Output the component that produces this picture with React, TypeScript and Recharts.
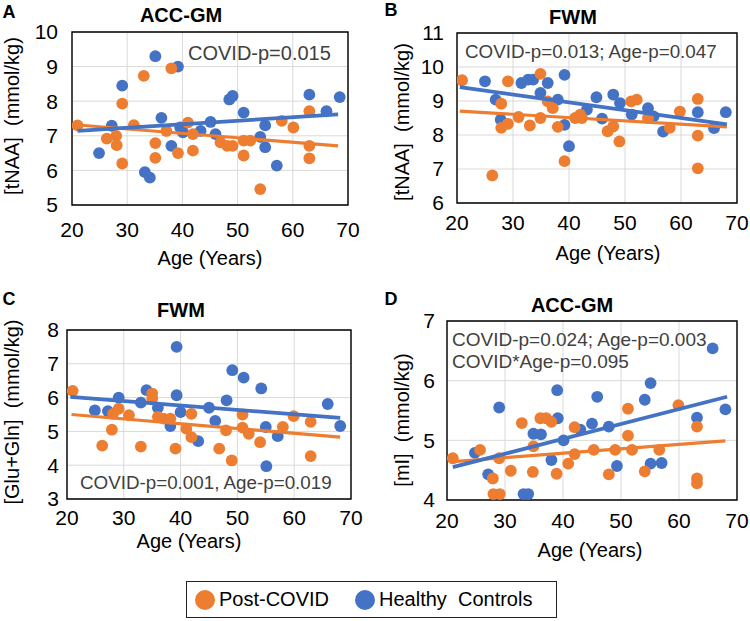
import React from "react";
import {
  ScatterChart,
  Scatter,
  XAxis,
  YAxis,
  CartesianGrid,
  ReferenceArea,
} from "recharts";

const POST = "#ED7D31";
const HEALTHY = "#4472C4";
const FONT = '"Liberation Sans", Arial, sans-serif';

const ageTicks = [20, 30, 40, 50, 60, 70];

// A - ACC-GM [tNAA]
const accNaaPost = [
  [21, 7.3], [26.3, 6.92], [28, 7.0], [28.1, 6.73], [29.1, 7.93], [29.1, 6.2], [31.2, 7.31],
  [33, 8.73], [35.1, 6.79], [35.1, 6.36], [37.1, 7.14], [38, 8.95], [39.2, 6.5], [41, 7.38],
  [41.9, 7.05], [41.9, 6.57], [46.9, 6.81], [48.1, 6.71], [49.1, 6.71], [51.1, 6.43],
  [51.1, 6.86], [52.3, 6.86], [54.1, 5.46], [58, 7.43], [60.1, 7.24], [63, 7.71], [63, 6.71],
  [63, 6.35],
];
const accNaaHealthy = [
  [24.9, 6.5], [27.2, 7.29], [29.1, 8.45], [33.2, 5.95], [34.1, 5.79], [35.1, 9.3],
  [36.2, 7.52], [38, 6.71], [39.2, 9.0], [39.6, 7.24], [40.1, 7.1], [43.3, 7.14], [45.1, 7.4],
  [46, 7.05], [48.5, 8.05], [49.1, 8.15], [51.1, 7.67], [54.1, 6.97], [55, 7.3], [55, 6.67],
  [57.1, 6.14], [63, 8.19], [66.1, 7.71], [68.5, 8.12],
];
const accNaaPostTrend = [[20.5, 7.32], [68.2, 6.71]];
const accNaaHealthyTrend = [[21, 7.14], [68.2, 7.62]];

// B - FWM [tNAA]
const fwmNaaPost = [
  [20.9, 9.61], [26.3, 6.81], [27.9, 8.92], [27.9, 8.21], [29.1, 9.58], [29.1, 8.33], [31, 8.53],
  [33, 8.28], [34.9, 9.8], [34.9, 8.5], [36.2, 8.99], [37.1, 8.79], [38, 8.24], [39.2, 7.23],
  [41.1, 8.5], [42, 8.6], [42.3, 8.5], [46.9, 8.11], [47.9, 8.25], [49, 7.81], [51.1, 8.99],
  [52.1, 9.04], [54.1, 8.5], [58, 8.21], [59.8, 8.69], [63, 9.06], [63, 7.98], [63, 7.02],
];
const fwmNaaHealthy = [
  [25, 9.58], [26.9, 9.04], [27.8, 8.45], [31.5, 9.53], [32.7, 9.63], [33.6, 9.63], [34.9, 9.24],
  [36.2, 9.53], [38, 9.04], [39.2, 9.77], [39.2, 8.3], [40, 7.67], [43.2, 8.75], [44.9, 9.11],
  [45.9, 8.48], [47.9, 9.19], [49.1, 8.94], [51.2, 8.6], [54.1, 8.79], [55.1, 8.55],
  [56.8, 8.1], [63, 8.67], [65.9, 8.2], [68, 8.67],
];
const fwmNaaPostTrend = [[20.5, 8.7], [68.2, 8.24]];
const fwmNaaHealthyTrend = [[20.5, 9.41], [68.2, 8.31]];

// C - FWM [Glu+Gln]
const fwmGlxPost = [
  [21, 6.2], [26.2, 4.58], [27.9, 5.05], [28.1, 5.52], [29.1, 5.67], [30.9, 5.48], [33, 4.55],
  [35, 6.12], [35, 5.97], [36, 5.43], [37, 5.38], [38.2, 5.38], [39.1, 4.49], [41, 5.08],
  [41.9, 5.52], [41.9, 4.83], [46.8, 4.49], [48, 5.03], [49, 4.14], [50.9, 5.5], [50.9, 5.11],
  [52, 4.93], [54, 4.68], [58, 5.13], [59.9, 5.45], [62.9, 5.28], [62.9, 4.27],
];
const fwmGlxHealthy = [
  [24.9, 5.62], [27.2, 5.6], [29.1, 6.0], [33, 5.85], [34, 6.22], [36, 5.7], [38.2, 5.16],
  [39.3, 7.5], [39.3, 6.07], [40, 5.57], [43.1, 4.71], [45, 5.7], [46.1, 5.31], [48.1, 5.92],
  [49.1, 6.81], [51.1, 6.59], [54.2, 6.27], [55, 5.13], [55.1, 3.97], [57.1, 4.86],
  [65.9, 5.81], [68.1, 5.16],
];
const fwmGlxPostTrend = [[20.8, 5.5], [68.1, 4.83]];
const fwmGlxHealthyTrend = [[20.6, 6.02], [68.1, 5.4]];

// D - ACC-GM [mI]
const accMiPost = [
  [21, 4.7], [25.7, 4.84], [27.9, 4.36], [28, 4.1], [29.1, 4.1], [29, 4.7], [31, 4.49],
  [32.9, 5.29], [34.9, 4.9], [34.8, 4.47], [36.1, 5.37], [37.1, 5.37], [38, 5.31], [38.9, 4.44],
  [40.9, 4.61], [42, 5.22], [42, 4.77], [45.3, 4.84], [47.9, 4.43], [49, 4.84], [51.2, 5.53],
  [51.2, 5.08], [51.9, 4.84], [54.1, 4.48], [56.6, 4.84], [59.9, 5.59], [63.1, 5.23],
  [63.1, 4.36], [63.1, 4.28],
];
const accMiHealthy = [
  [24.8, 4.79], [27.1, 4.43], [29, 5.55], [33.2, 4.1], [34, 4.1], [34.9, 5.11], [36.2, 5.1],
  [38, 4.67], [39, 5.84], [39.1, 5.37], [40.1, 5.0], [43, 5.18], [45, 5.28], [45.9, 5.73],
  [47.9, 5.23], [49.3, 4.57], [54.1, 5.68], [55.1, 5.96], [55.1, 4.61], [57, 4.62],
  [63.1, 5.38], [65.8, 6.54], [68, 5.52],
];
const accMiPostTrend = [[20.5, 4.64], [68, 4.99]];
const accMiHealthyTrend = [[21, 4.55], [68.3, 5.73]];

const toPts = (arr: number[][]) => arr.map(([age, val]) => ({ age, val }));

const dot = (color: string) => (props: any) =>
  <circle cx={props.cx} cy={props.cy} r={5.9} fill={color} />;

const noDot = () => <g />;

function Txt({ x, y, size, children, bold, color, rotate, align }: any) {
  const tx = align === "left" ? "0" : "-50%";
  return (
    <div
      style={{
        position: "absolute",
        left: x,
        top: y,
        transform: `translate(${tx}, -50%)${rotate ? " rotate(-90deg)" : ""}`,
        fontSize: size,
        fontWeight: bold ? 700 : 400,
        color: color || "#000",
        whiteSpace: "pre",
        lineHeight: 1,
        fontFamily: FONT,
      }}
    >
      {children}
    </div>
  );
}

function Panel(p: any) {
  const W = 375;
  const H = 290;
  const yAxisW = 50;
  const xAxisH = 40;
  const margin = {
    top: p.plot.top - p.oy,
    right: p.ox + W - p.plot.right,
    bottom: p.oy + H - p.plot.bottom - xAxisH,
    left: p.plot.left - p.ox - yAxisW,
  };
  const yMin = p.yTicks[0];
  const yMax = p.yTicks[p.yTicks.length - 1];
  return (
    <>
      <div style={{ position: "absolute", left: p.ox, top: p.oy }}>
        <ScatterChart width={W} height={H} margin={margin}>
          <CartesianGrid stroke="#d9d9d9" strokeWidth={1} />
          <XAxis
            type="number"
            dataKey="age"
            domain={[20, 70]}
            ticks={ageTicks}
            allowDataOverflow
            height={xAxisH}
            axisLine={false}
            tickLine={false}
            tickSize={0}
            tickMargin={p.xTickGap}
            tick={{ fontSize: 21, fill: "#000", fontFamily: FONT }}
          />
          <YAxis
            type="number"
            dataKey="val"
            domain={[yMin, yMax]}
            ticks={p.yTicks}
            allowDataOverflow
            width={yAxisW}
            axisLine={false}
            tickLine={false}
            tickSize={0}
            tickMargin={p.yTickGap}
            tick={{ fontSize: 21, fill: "#000", fontFamily: FONT }}
          />
          <ReferenceArea
            x1={20}
            x2={70}
            y1={yMin}
            y2={yMax}
            fill="none"
            stroke="#000"
            strokeWidth={1.4}
            fillOpacity={0}
          />
          <Scatter data={toPts(p.healthy)} shape={dot(HEALTHY)} isAnimationActive={false} />
          <Scatter data={toPts(p.post)} shape={dot(POST)} isAnimationActive={false} />
          <Scatter
            data={toPts(p.postTrend)}
            shape={noDot}
            line={{ stroke: POST, strokeWidth: 3.2 }}
            isAnimationActive={false}
          />
          <Scatter
            data={toPts(p.healthyTrend)}
            shape={noDot}
            line={{ stroke: HEALTHY, strokeWidth: 3.8 }}
            isAnimationActive={false}
          />
        </ScatterChart>
      </div>
      <Txt x={p.letter[1]} y={p.letter[2]} size={18} bold>{p.letter[0]}</Txt>
      <Txt x={p.title[1]} y={p.title[2]} size={20} bold>{p.title[0]}</Txt>
      <Txt x={p.yLabel[1]} y={p.yLabel[2]} size={20} rotate>{p.yLabel[0]}</Txt>
      <Txt x={p.xLabel[0]} y={p.xLabel[1]} size={20}>Age (Years)</Txt>
      {p.notes.map((n: any, i: number) => (
        <Txt key={i} x={n[1]} y={n[2]} size={p.noteSize} color="#404040" align="left">{n[0]}</Txt>
      ))}
    </>
  );
}

export default function App() {
  return (
    <div
      style={{
        position: "absolute",
        left: 0,
        top: 0,
        width: 750,
        height: 621,
        background: "#fff",
        overflow: "hidden",
        fontFamily: FONT,
      }}
    >
      <Panel
        ox={0}
        oy={0}
        plot={{ left: 72, top: 32, right: 348, bottom: 205 }}
        yTicks={[5, 6, 7, 8, 9, 10]}
        xTickGap={17}
        yTickGap={14}
        letter={["A", 9, 12]}
        title={["ACC-GM", 181, 15]}
        yLabel={["[tNAA]  (mmol/kg)", 12, 116]}
        xLabel={[210, 258]}
        noteSize={20}
        notes={[["COVID-p=0.015", 188, 53]]}
        post={accNaaPost}
        healthy={accNaaHealthy}
        postTrend={accNaaPostTrend}
        healthyTrend={accNaaHealthyTrend}
      />
      <Panel
        ox={375}
        oy={0}
        plot={{ left: 457, top: 33, right: 737, bottom: 203 }}
        yTicks={[6, 7, 8, 9, 10, 11]}
        xTickGap={12}
        yTickGap={13}
        letter={["B", 391, 10]}
        title={["FWM", 573, 17]}
        yLabel={["[tNAA]  (mmol/kg)", 402, 122]}
        xLabel={[608, 253]}
        noteSize={18.8}
        notes={[["COVID-p=0.013; Age-p=0.047", 465, 52]]}
        post={fwmNaaPost}
        healthy={fwmNaaHealthy}
        postTrend={fwmNaaPostTrend}
        healthyTrend={fwmNaaHealthyTrend}
      />
      <Panel
        ox={0}
        oy={290}
        plot={{ left: 67, top: 330, right: 351, bottom: 499 }}
        yTicks={[3, 4, 5, 6, 7, 8]}
        xTickGap={11}
        yTickGap={8}
        letter={["C", 9, 299]}
        title={["FWM", 181, 310]}
        yLabel={["[Glu+Gln]  (mmol/kg)", 12, 412]}
        xLabel={[189, 541]}
        noteSize={18.8}
        notes={[["COVID-p=0.001, Age-p=0.019", 80, 483]]}
        post={fwmGlxPost}
        healthy={fwmGlxHealthy}
        postTrend={fwmGlxPostTrend}
        healthyTrend={fwmGlxHealthyTrend}
      />
      <Panel
        ox={375}
        oy={290}
        plot={{ left: 447, top: 321, right: 737, bottom: 500 }}
        yTicks={[4, 5, 6, 7]}
        xTickGap={13}
        yTickGap={12}
        letter={["D", 391, 299]}
        title={["ACC-GM", 572, 305]}
        yLabel={["[mI]  (mmol/kg)", 402, 420]}
        xLabel={[590, 550]}
        noteSize={19}
        notes={[
          ["COVID-p=0.024; Age-p=0.003", 452, 339],
          ["COVID*Age-p=0.095", 452, 361],
        ]}
        post={accMiPost}
        healthy={accMiHealthy}
        postTrend={accMiPostTrend}
        healthyTrend={accMiHealthyTrend}
      />
      <div
        style={{
          position: "absolute",
          left: 186,
          top: 581,
          width: 371,
          height: 37,
          boxSizing: "border-box",
          border: "1.5px solid #222",
          display: "flex",
          alignItems: "center",
          paddingLeft: 8,
          fontSize: 20,
          whiteSpace: "pre",
          fontFamily: FONT,
        }}
      >
        <span style={{ width: 20, height: 20, borderRadius: 10, background: POST, marginRight: 4 }} />
        <span>Post-COVID</span>
        <span style={{ width: 20, height: 20, borderRadius: 10, background: HEALTHY, marginLeft: 26, marginRight: 4 }} />
        <span>Healthy  Controls</span>
      </div>
    </div>
  );
}
